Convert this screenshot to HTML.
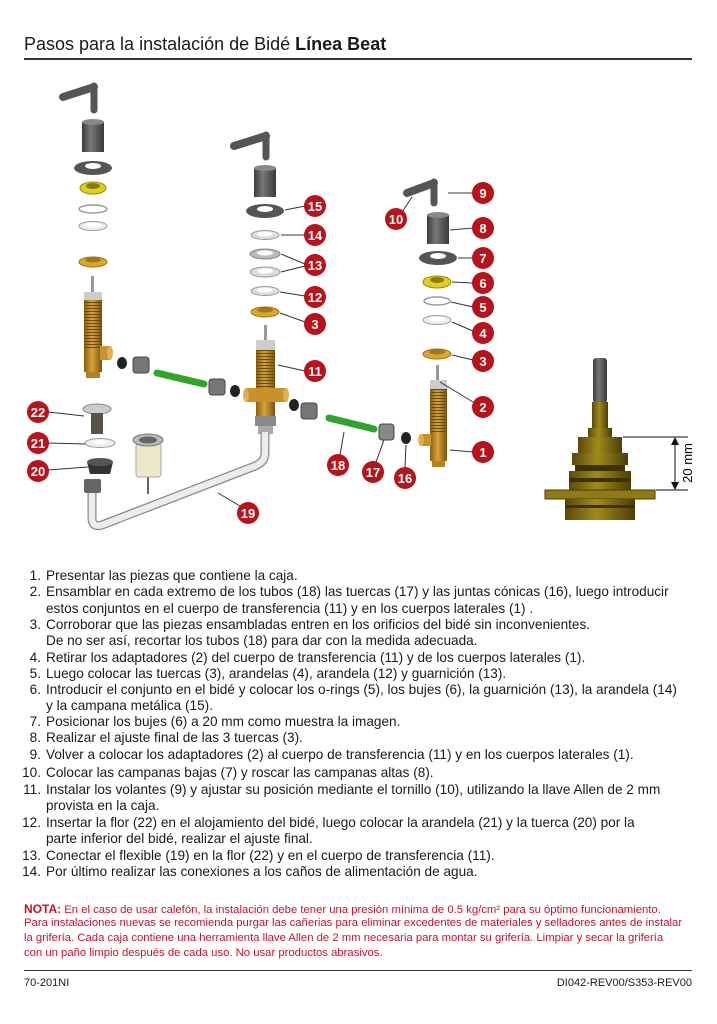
<!DOCTYPE html>
<html><head><meta charset="utf-8">
<style>
html,body{margin:0;padding:0;background:#fff}
body{width:717px;height:1024px;position:relative;overflow:hidden;font-family:"Liberation Sans",sans-serif;color:#1a1a1a}
.t{position:absolute;white-space:nowrap}
.li{position:absolute;left:22px;font-size:13.6px;letter-spacing:0px;white-space:nowrap;line-height:16px}
.li b{display:inline-block;width:19px;text-align:right;font-weight:normal;margin-right:5px}
.nota{position:absolute;left:24px;font-size:11.3px;color:#c8102e;white-space:nowrap;letter-spacing:0px}
</style></head><body>
<div class="t" style="left:24px;top:34px;font-size:18px;">Pasos para la instalación de Bidé <b>Línea Beat</b></div>
<div style="position:absolute;left:24px;top:58px;width:668px;height:2px;background:#333"></div>

<svg width="717" height="560" style="position:absolute;left:0;top:0" xmlns="http://www.w3.org/2000/svg">
<defs>
<linearGradient id="br" x1="0" x2="1"><stop offset="0" stop-color="#8a5f12"/><stop offset=".45" stop-color="#d6a33a"/><stop offset="1" stop-color="#7a5210"/></linearGradient>
<linearGradient id="gy" x1="0" x2="1"><stop offset="0" stop-color="#3c3c3c"/><stop offset=".4" stop-color="#777"/><stop offset="1" stop-color="#3a3a3a"/></linearGradient>
<linearGradient id="ol" x1="0" x2="1"><stop offset="0" stop-color="#5a4a08"/><stop offset=".45" stop-color="#a08a1c"/><stop offset="1" stop-color="#4d3e06"/></linearGradient>
<pattern id="th" width="4" height="3" patternUnits="userSpaceOnUse"><rect width="4" height="3" fill="none"/><line x1="0" y1="2.5" x2="4" y2="2.5" stroke="#6b4a0a" stroke-width="1"/></pattern>
</defs>
<g stroke-linecap="round">
<line x1="63" y1="97" x2="94" y2="87" stroke="#555" stroke-width="8"/><line x1="94" y1="86" x2="94" y2="110" stroke="#555" stroke-width="7"/>
<line x1="234" y1="146" x2="266" y2="136" stroke="#555" stroke-width="8"/><line x1="266" y1="135" x2="266" y2="157" stroke="#555" stroke-width="7"/>
<line x1="407" y1="193" x2="434" y2="183" stroke="#555" stroke-width="8"/><line x1="434" y1="182" x2="434" y2="203" stroke="#555" stroke-width="7"/>
</g>
<rect x="82" y="122" width="22" height="30" fill="url(#gy)"/><ellipse cx="93" cy="122" rx="11" ry="3" fill="#888"/>
<rect x="254" y="168" width="22" height="29" fill="url(#gy)"/><ellipse cx="265" cy="168" rx="11" ry="3" fill="#888"/>
<rect x="427" y="215" width="22" height="29" fill="url(#gy)"/><ellipse cx="438" cy="215" rx="11" ry="3" fill="#888"/>
<ellipse cx="93" cy="168" rx="19" ry="7" fill="#555"/><ellipse cx="93" cy="166" rx="8" ry="3" fill="#fff"/>
<ellipse cx="93" cy="188" rx="13" ry="6" fill="#e0cf1e" stroke="#9a8a10"/><ellipse cx="93" cy="186" rx="7" ry="3" fill="#8a7a10"/>
<ellipse cx="93" cy="209" rx="14" ry="4" fill="none" stroke="#999" stroke-width="1.5"/>
<ellipse cx="93" cy="226" rx="14" ry="4.5" fill="#eee" stroke="#999"/><ellipse cx="93" cy="225" rx="8" ry="2.5" fill="#fff"/>
<ellipse cx="93" cy="262" rx="14" ry="5" fill="#d9a82a" stroke="#9a7010"/><ellipse cx="93" cy="260" rx="8" ry="2.5" fill="#a07818"/>
<ellipse cx="265" cy="211" rx="19" ry="7" fill="#555"/><ellipse cx="265" cy="209" rx="8" ry="3" fill="#fff"/>
<ellipse cx="265" cy="235" rx="14" ry="4.5" fill="#ddd" stroke="#999"/><ellipse cx="265" cy="234" rx="8" ry="2.5" fill="#fff"/>
<ellipse cx="265" cy="254" rx="15" ry="5" fill="#bbb" stroke="#888"/><ellipse cx="265" cy="253" rx="8" ry="2.5" fill="#fff"/>
<ellipse cx="265" cy="272" rx="15" ry="5" fill="#ddd" stroke="#999"/><ellipse cx="265" cy="271" rx="8" ry="2.5" fill="#fff"/>
<ellipse cx="265" cy="291" rx="14" ry="4.5" fill="#ddd" stroke="#999"/><ellipse cx="265" cy="290" rx="8" ry="2.5" fill="#fff"/>
<ellipse cx="265" cy="312" rx="14" ry="5" fill="#d9a82a" stroke="#9a7010"/><ellipse cx="265" cy="310" rx="8" ry="2.5" fill="#a07818"/>
<ellipse cx="438" cy="258" rx="19" ry="7" fill="#555"/><ellipse cx="438" cy="256" rx="8" ry="3" fill="#fff"/>
<ellipse cx="437" cy="282" rx="14" ry="6" fill="#e0cf1e" stroke="#9a8a10"/><ellipse cx="437" cy="280" rx="7" ry="3" fill="#8a7a10"/>
<ellipse cx="437" cy="301" rx="13" ry="4" fill="none" stroke="#999" stroke-width="1.5"/>
<ellipse cx="437" cy="320" rx="14" ry="4.5" fill="#eee" stroke="#999"/><ellipse cx="437" cy="319" rx="8" ry="2.5" fill="#fff"/>
<ellipse cx="437" cy="354" rx="14" ry="5" fill="#d9a82a" stroke="#9a7010"/><ellipse cx="437" cy="352" rx="8" ry="2.5" fill="#a07818"/>
<g>
<rect x="91" y="276" width="3" height="16" fill="#999"/>
<rect x="84" y="292" width="18" height="8" fill="#ccc"/>
<rect x="84" y="300" width="18" height="72" fill="url(#br)"/><rect x="84" y="300" width="18" height="50" fill="url(#th)"/>
<rect x="100" y="346" width="10" height="14" fill="#c8922a"/><ellipse cx="110" cy="353" rx="3" ry="7" fill="#e0b050"/>
<rect x="86" y="372" width="14" height="6" fill="#b58020"/>
</g>
<g>
<rect x="264" y="325" width="3" height="16" fill="#999"/>
<rect x="256" y="340" width="19" height="10" fill="#ccc"/>
<rect x="256" y="350" width="19" height="68" fill="url(#br)"/><rect x="256" y="350" width="19" height="40" fill="url(#th)"/>
<rect x="246" y="388" width="40" height="14" fill="#c8922a"/><ellipse cx="246" cy="395" rx="3" ry="7" fill="#e0b050"/><ellipse cx="286" cy="395" rx="3" ry="7" fill="#e0b050"/>
<rect x="255" y="416" width="21" height="10" fill="#8a8a8a"/><rect x="258" y="426" width="15" height="8" fill="#aaa"/>
</g>
<g>
<rect x="436" y="365" width="3" height="16" fill="#999"/>
<rect x="430" y="380" width="17" height="9" fill="#ccc"/>
<rect x="430" y="389" width="17" height="72" fill="url(#br)"/><rect x="430" y="389" width="17" height="45" fill="url(#th)"/>
<rect x="421" y="434" width="10" height="12" fill="#c8922a"/><ellipse cx="421" cy="440" rx="3" ry="6" fill="#e0b050"/>
<rect x="432" y="461" width="13" height="6" fill="#b58020"/>
</g>
<ellipse cx="122" cy="363" rx="5" ry="6" fill="#222"/>
<rect x="133" y="357" width="16" height="16" rx="3" fill="#777" stroke="#444"/>
<line x1="157" y1="373" x2="204" y2="384" stroke="#2fa52a" stroke-width="7" stroke-linecap="round"/>
<rect x="209" y="379" width="16" height="16" rx="3" fill="#777" stroke="#444"/>
<ellipse cx="235" cy="391" rx="5" ry="6" fill="#222"/>
<ellipse cx="294" cy="405" rx="5" ry="6" fill="#222"/>
<rect x="301" y="403" width="16" height="16" rx="3" fill="#777" stroke="#444"/>
<line x1="329" y1="418" x2="374" y2="429" stroke="#2fa52a" stroke-width="7" stroke-linecap="round"/>
<rect x="379" y="424" width="15" height="16" rx="3" fill="#888" stroke="#444"/>
<ellipse cx="406" cy="438" rx="5" ry="6" fill="#222"/>
<path d="M265,432 L265,453 Q265,462 255,466 L102,525 Q92,528 92,518 L92,490" fill="none" stroke="#888" stroke-width="9"/>
<path d="M265,432 L265,453 Q265,462 255,466 L102,525 Q92,528 92,518 L92,490" fill="none" stroke="#ececec" stroke-width="6.5"/>
<rect x="84" y="479" width="17" height="14" rx="2" fill="#666"/>
<ellipse cx="97" cy="409" rx="14" ry="5" fill="#ccc" stroke="#888"/>
<rect x="91" y="413" width="12" height="21" fill="#555"/><rect x="91" y="413" width="12" height="21" fill="url(#th)" opacity=".5"/>
<ellipse cx="100" cy="443" rx="15" ry="4.5" fill="#eee" stroke="#999"/><ellipse cx="100" cy="442" rx="7" ry="2" fill="#fff"/>
<path d="M87,462 L113,462 L110,474 L90,474 Z" fill="#333"/><ellipse cx="100" cy="462" rx="13" ry="4" fill="#555"/>
<line x1="148" y1="475" x2="148" y2="494" stroke="#333" stroke-width="1.5"/>
<rect x="136" y="443" width="25" height="34" rx="3" fill="#ece8c8" stroke="#aaa"/>
<ellipse cx="148" cy="440" rx="15" ry="6" fill="#bbb" stroke="#777"/><ellipse cx="148" cy="440" rx="9" ry="3.5" fill="#666"/>
<g stroke="#333" stroke-width="1" fill="none">
<line x1="448" y1="193" x2="473" y2="193"/><line x1="402" y1="212" x2="412" y2="197"/>
<line x1="450" y1="230" x2="473" y2="228"/><line x1="458" y1="258" x2="473" y2="258"/>
<line x1="452" y1="282" x2="473" y2="283"/><line x1="451" y1="302" x2="473" y2="307"/>
<line x1="452" y1="322" x2="473" y2="331"/><line x1="452" y1="355" x2="473" y2="360"/>
<line x1="440" y1="382" x2="473" y2="402"/><line x1="450" y1="450" x2="473" y2="452"/>
<line x1="285" y1="210" x2="305" y2="206"/><line x1="281" y1="235" x2="305" y2="235"/>
<line x1="281" y1="254" x2="305" y2="264"/><line x1="281" y1="272" x2="305" y2="266"/>
<line x1="280" y1="292" x2="305" y2="296"/><line x1="280" y1="313" x2="305" y2="322"/>
<line x1="278" y1="365" x2="305" y2="371"/>
<line x1="48" y1="412" x2="84" y2="416"/><line x1="48" y1="443" x2="85" y2="444"/><line x1="48" y1="470" x2="88" y2="467"/>
<line x1="340" y1="455" x2="344" y2="432"/><line x1="376" y1="462" x2="384" y2="440"/><line x1="405" y1="468" x2="406" y2="445"/>
<line x1="218" y1="493" x2="240" y2="506"/>
</g>
<g font-family="Liberation Sans,sans-serif" font-weight="bold" font-size="13" fill="#fff" text-anchor="middle">
<g fill="#b8121b">
<circle cx="483" cy="193" r="11"/><circle cx="396" cy="219" r="11"/><circle cx="483" cy="228" r="11"/><circle cx="483" cy="258" r="11"/>
<circle cx="483" cy="283" r="11"/><circle cx="483" cy="307" r="11"/><circle cx="483" cy="333" r="11"/><circle cx="483" cy="361" r="11"/>
<circle cx="483" cy="407" r="11"/><circle cx="483" cy="452" r="11"/>
<circle cx="315" cy="206" r="11"/><circle cx="315" cy="235" r="11"/><circle cx="315" cy="265" r="11"/><circle cx="315" cy="297" r="11"/>
<circle cx="315" cy="324" r="11"/><circle cx="315" cy="371" r="11"/>
<circle cx="38" cy="412" r="11"/><circle cx="38" cy="443" r="11"/><circle cx="38" cy="471" r="11"/>
<circle cx="338" cy="465" r="11"/><circle cx="373" cy="472" r="11"/><circle cx="405" cy="478" r="11"/><circle cx="248" cy="513" r="11"/>
</g>
<text x="483" y="198">9</text><text x="396" y="224">10</text><text x="483" y="233">8</text><text x="483" y="263">7</text>
<text x="483" y="288">6</text><text x="483" y="312">5</text><text x="483" y="338">4</text><text x="483" y="366">3</text>
<text x="483" y="412">2</text><text x="483" y="457">1</text>
<text x="315" y="211">15</text><text x="315" y="240">14</text><text x="315" y="270">13</text><text x="315" y="302">12</text>
<text x="315" y="329">3</text><text x="315" y="376">11</text>
<text x="38" y="417">22</text><text x="38" y="448">21</text><text x="38" y="476">20</text>
<text x="338" y="470">18</text><text x="373" y="477">17</text><text x="405" y="483">16</text><text x="248" y="518">19</text>
</g>
<rect x="593" y="358" width="14" height="45" rx="3" fill="url(#gy)"/>
<rect x="592" y="402" width="16" height="27" fill="url(#ol)"/>
<rect x="588" y="428" width="24" height="9" fill="url(#ol)"/>
<rect x="578" y="437" width="44" height="16" fill="url(#ol)"/>
<rect x="572" y="453" width="56" height="12" fill="url(#ol)"/>
<rect x="575" y="465" width="50" height="6" fill="#3d3205"/>
<rect x="569" y="471" width="62" height="19" fill="url(#ol)"/>
<rect x="569" y="478" width="62" height="4" fill="#3d3205"/>
<rect x="545" y="490" width="110" height="9" fill="#8f7a16" stroke="#4d3e06"/>
<rect x="565" y="499" width="70" height="21" fill="url(#ol)"/>
<rect x="565" y="505" width="70" height="3" fill="#3d3205"/>
<g stroke="#111" stroke-width="1"><line x1="623" y1="437" x2="688" y2="437"/><line x1="656" y1="490" x2="688" y2="490"/><line x1="675" y1="440" x2="675" y2="487"/></g>
<path d="M675,437 L671,445 L679,445 Z M675,490 L671,482 L679,482 Z" fill="#111"/>
<text x="0" y="0" transform="translate(692,463) rotate(-90)" font-family="Liberation Sans,sans-serif" font-size="13" text-anchor="middle">20 mm</text>
</svg>

<div class="li" style="top:568px"><b>1.</b>Presentar las piezas que contiene la caja.</div>
<div class="li" style="top:584px"><b>2.</b>Ensamblar en cada extremo de los tubos (18) las tuercas (17) y las juntas cónicas (16), luego introducir</div>
<div class="li" style="top:601px"><b></b>estos conjuntos en el cuerpo de transferencia (11) y en los cuerpos laterales (1) .</div>
<div class="li" style="top:617px"><b>3.</b>Corroborar que las piezas ensambladas entren en los orificios del bidé sin inconvenientes.</div>
<div class="li" style="top:633px"><b></b>De no ser así, recortar los tubos (18) para dar con la medida adecuada.</div>
<div class="li" style="top:650px"><b>4.</b>Retirar los adaptadores (2) del cuerpo de transferencia (11) y de los cuerpos laterales (1).</div>
<div class="li" style="top:666px"><b>5.</b>Luego colocar las tuercas (3), arandelas (4), arandela (12) y guarnición (13).</div>
<div class="li" style="top:682px"><b>6.</b>Introducir el conjunto en el bidé y colocar los o-rings (5), los bujes (6), la guarnición (13), la arandela (14)</div>
<div class="li" style="top:698px"><b></b>y la campana metálica (15).</div>
<div class="li" style="top:714px"><b>7.</b>Posicionar los bujes (6) a 20 mm como muestra la imagen.</div>
<div class="li" style="top:730px"><b>8.</b>Realizar el ajuste final de las 3 tuercas (3).</div>
<div class="li" style="top:747px"><b>9.</b>Volver a colocar los adaptadores (2) al cuerpo de transferencia (11) y en los cuerpos laterales (1).</div>
<div class="li" style="top:765px"><b>10.</b>Colocar las campanas bajas (7) y roscar las campanas altas (8).</div>
<div class="li" style="top:782px"><b>11.</b>Instalar los volantes (9) y ajustar su posición mediante el tornillo (10), utilizando la llave Allen de 2 mm</div>
<div class="li" style="top:798px"><b></b>provista en la caja.</div>
<div class="li" style="top:815px"><b>12.</b>Insertar la flor (22) en el alojamiento del bidé, luego colocar la arandela (21) y la tuerca (20) por la</div>
<div class="li" style="top:831px"><b></b>parte inferior del bidé, realizar el ajuste final.</div>
<div class="li" style="top:848px"><b>13.</b>Conectar el flexible (19) en la flor (22) y en el cuerpo de transferencia (11).</div>
<div class="li" style="top:864px"><b>14.</b>Por último realizar las conexiones a los caños de alimentación de agua.</div>

<div class="nota" style="top:902px"><b style="font-size:12px">NOTA:</b> En el caso de usar calefón, la instalación debe tener una presión mínima de 0.5 kg/cm² para su óptimo funcionamiento.</div>
<div class="nota" style="top:917px">Para instalaciones nuevas se recomienda purgar las cañerias para eliminar excedentes de materiales y selladores antes de instalar</div>
<div class="nota" style="top:932px">la grifería. Cada caja contiene una herramienta llave Allen de 2 mm necesaria para montar su grifería. Limpiar y secar la grifería</div>
<div class="nota" style="top:947px">con un paño limpio después de cada uso. No usar productos abrasivos.</div>

<div style="position:absolute;left:24px;top:970px;width:668px;height:1px;background:#333"></div>
<div class="t" style="left:24px;top:977px;font-size:11px">70-201NI</div>
<div class="t" style="right:25px;top:977px;font-size:11px">DI042-REV00/S353-REV00</div>
</body></html>
